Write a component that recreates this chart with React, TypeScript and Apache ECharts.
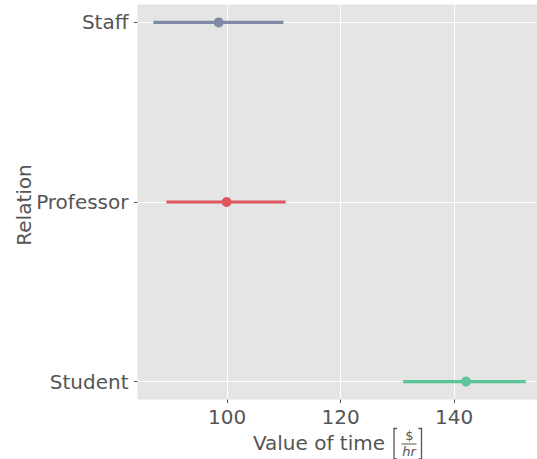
import React, { useEffect, useRef } from "react";
import * as echarts from "echarts";

const categories = ["Staff", "Professor", "Student"];
const means = [98.5, 99.9, 142.1];
const ciLow = [87.0, 89.3, 131.0];
const ciHigh = [109.9, 110.3, 152.6];
const xTicks = [100, 120, 140];
const catIndex = [0, 1, 2];

const colors = ["#7f8aa6", "#e0565f", "#5ec49a"];
const FONT = "DejaVu Sans";
const TXT = "#555555";

export default function App() {
  const ref = useRef<HTMLDivElement>(null);
  useEffect(() => {
    if (!ref.current) return;
    const chart = echarts.init(ref.current, undefined, { renderer: "svg" });
    const series: any[] = [];
    categories.forEach((c, i) => {
      series.push({
        type: "line",
        name: c + " CI",
        data: [
          [ciLow[i], catIndex[i]],
          [ciHigh[i], catIndex[i]],
        ],
        symbol: "none",
        lineStyle: { color: colors[i], width: 3.2 },
        z: 3,
      });
      series.push({
        type: "scatter",
        name: c,
        data: [[means[i], catIndex[i]]],
        symbolSize: 10,
        itemStyle: { color: colors[i], opacity: 1 },
        z: 4,
      });
    });
    chart.setOption({
      animation: false,
      grid: {
        left: 137.5,
        top: 4.5,
        right: 0,
        bottom: 59.5,
        show: true,
        backgroundColor: "#E5E5E5",
        borderWidth: 0,
      },
      xAxis: {
        type: "value",
        min: 84.2,
        max: 154.6,
        axisLine: { show: false, onZero: false },
        axisTick: {
          show: true,
          length: 3.5,
          customValues: xTicks,
          lineStyle: { color: TXT, width: 1 },
        },
        axisLabel: {
          customValues: xTicks,
          fontSize: 20,
          fontFamily: FONT,
          color: TXT,
          margin: 7,
        },
        splitLine: { show: true, lineStyle: { color: "#ffffff", width: 1 } },
      },
      yAxis: {
        type: "value",
        inverse: true,
        min: -0.1,
        max: 2.1,
        axisLine: { show: false, onZero: false },
        axisTick: {
          show: true,
          length: 3.5,
          customValues: catIndex,
          lineStyle: { color: TXT, width: 1 },
        },
        axisLabel: {
          customValues: catIndex,
          formatter: (v: number) => categories[Math.round(v)] ?? "",
          fontSize: 20,
          fontFamily: FONT,
          color: TXT,
          margin: 9,
        },
        splitLine: { show: true, lineStyle: { color: "#ffffff", width: 1 } },
      },
      graphic: [
        {
          type: "text",
          x: 24,
          y: 205,
          rotation: Math.PI / 2,
          style: {
            text: "Relation",
            font: `20px "${FONT}"`,
            fill: TXT,
            align: "center",
            verticalAlign: "middle",
          },
        },
        {
          type: "text",
          x: 385,
          y: 443,
          style: {
            text: "Value of time",
            font: `20px "${FONT}"`,
            fill: TXT,
            align: "right",
            verticalAlign: "middle",
          },
        },
        {
          type: "polyline",
          shape: { points: [[397, 428.5], [394, 428.5], [394, 459], [397, 459]] },
          style: { stroke: TXT, lineWidth: 1.3, fill: "none" },
        },
        {
          type: "polyline",
          shape: { points: [[418.5, 428.5], [421.5, 428.5], [421.5, 459], [418.5, 459]] },
          style: { stroke: TXT, lineWidth: 1.3, fill: "none" },
        },
        {
          type: "text",
          x: 409.3,
          y: 435.5,
          style: {
            text: "$",
            font: `13px "${FONT}"`,
            fill: TXT,
            align: "center",
            verticalAlign: "middle",
          },
        },
        {
          type: "line",
          shape: { x1: 401.5, y1: 444, x2: 416.5, y2: 444 },
          style: { stroke: TXT, lineWidth: 1 },
        },
        {
          type: "text",
          x: 409,
          y: 451.5,
          style: {
            text: "hr",
            font: `italic 13px "${FONT}"`,
            fill: TXT,
            align: "center",
            verticalAlign: "middle",
          },
        },
      ],
      series,
    });
    return () => chart.dispose();
  }, []);
  return (
    <div
      ref={ref}
      style={{ position: "absolute", left: 0, top: 0, width: 537, height: 459 }}
    />
  );
}
